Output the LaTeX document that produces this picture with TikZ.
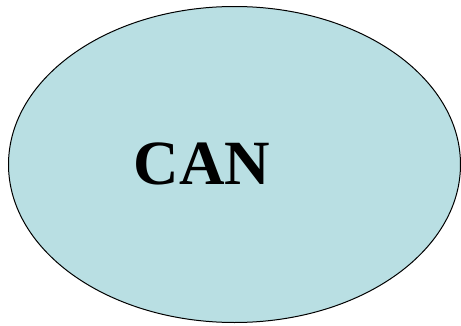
\documentclass[tikz,border=0pt]{standalone}
\usepackage{fontspec}
\setmainfont{Liberation Serif}
\usepackage{tikz}
\definecolor{canblue}{RGB}{185,223,227}

\begin{document}
\begin{tikzpicture}[x=1pt,y=1pt,
  blob/.style={draw=black, fill=canblue, line width=1pt},
  lbl/.style={font=\fontsize{63}{68}\selectfont\bfseries, inner sep=0pt}]
\useasboundingbox (0,0) rectangle (461,325);
\draw[blob] (234.5,160.5) ellipse [x radius=226, y radius=158];
\node[lbl] (can) at (202,161.5) {CAN};
\end{tikzpicture}
\end{document}
